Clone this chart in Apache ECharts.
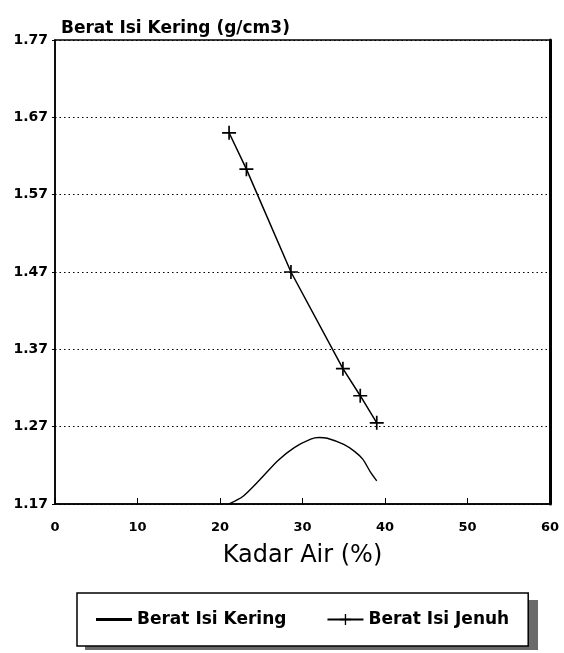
<!DOCTYPE html>
<html><head><meta charset="utf-8">
<script src="https://cdn.jsdelivr.net/npm/echarts@6/dist/echarts.min.js"></script>
<style>html,body{margin:0;padding:0;background:#fff}#c{width:564px;height:653px}</style>
</head><body><div id="c"></div>
<script>
// Data
const keringX = [21.1, 22.8, 24.8, 27.0, 29.0, 31.0, 32.0, 33.0, 35.0, 36.3, 37.3, 38.2, 39.0];
const keringY = [1.170, 1.180, 1.201, 1.226, 1.243, 1.254, 1.256, 1.255, 1.247, 1.238, 1.228, 1.212, 1.200];
const jenuhX = [21.1, 23.2, 28.6, 34.9, 37.0, 39.0];
const jenuhY = [1.650, 1.603, 1.470, 1.345, 1.310, 1.275];
const xTicks = [0, 10, 20, 30, 40, 50, 60];
const yTicks = [1.17, 1.27, 1.37, 1.47, 1.57, 1.67, 1.77];
const seriesNames = ['Berat Isi Kering', 'Berat Isi Jenuh'];
const xTitle = 'Kadar Air (%)';
const yTitle = 'Berat Isi Kering (g/cm3)';

const pair = (xs, ys) => xs.map((x, i) => [x, ys[i]]);
const plus = 'path://M0,4.4H10V5.6H0Z M4.4,0H5.6V10H4.4Z';
const dash = 'path://M0,4.6H10V5.4H0Z';
const boldFont = 'DejaVu Sans';

const chart = echarts.init(document.getElementById('c'), null, {renderer: 'canvas'});
chart.setOption({
  animation: false,
  backgroundColor: '#fff',
  grid: {left: 55, right: 14, top: 40, bottom: 149, show: true, borderColor: '#000', borderWidth: 1.5, backgroundColor: 'transparent'},
  title: {text: yTitle, left: 56, top: 15, textStyle: {fontFamily: boldFont, fontWeight: 'bold', fontSize: 17, color: '#000'}},
  graphic: [{
    type: 'rect', z: 0, silent: true,
    shape: {x: 85, y: 600, width: 453, height: 50},
    style: {fill: '#6a6a6a'}
  }],
  xAxis: {
    type: 'value', min: xTicks[0], max: xTicks[xTicks.length - 1], interval: 10,
    name: xTitle, nameLocation: 'middle', nameGap: 40,
    nameTextStyle: {fontFamily: 'DejaVu Sans', fontSize: 24, color: '#000'},
    axisLine: {lineStyle: {color: '#000', width: 1.5}},
    axisTick: {show: true, inside: true, length: 6, lineStyle: {color: '#000', width: 1}},
    axisLabel: {margin: 17, fontFamily: boldFont, fontWeight: 'bold', fontSize: 13, color: '#000',
      formatter: v => xTicks.includes(v) ? String(v) : ''},
    splitLine: {show: false}
  },
  yAxis: [{
    type: 'value', min: yTicks[0], max: yTicks[yTicks.length - 1], interval: 0.1,
    axisLine: {show: true, lineStyle: {color: '#000', width: 1.5}},
    axisTick: {show: true, inside: false, length: 3, lineStyle: {color: '#000'}},
    axisLabel: {margin: 7, fontFamily: boldFont, fontWeight: 'bold', fontSize: 14, color: '#000',
      formatter: v => {
        const t = yTicks.find(y => Math.abs(y - v) < 1e-6);
        return t === undefined ? '' : t.toFixed(2);
      }},
    splitLine: {show: true, lineStyle: {type: [1.5, 3], color: '#000', width: 1.2}}
  }, {
    type: 'value', position: 'right', min: yTicks[0], max: yTicks[yTicks.length - 1],
    axisLine: {show: true, lineStyle: {color: '#000', width: 3}},
    axisTick: {show: false}, axisLabel: {show: false}, splitLine: {show: false}
  }],
  legend: {
    left: 77, top: 593, z: 5,
    data: [{name: seriesNames[0], icon: dash}, {name: seriesNames[1]}],
    orient: 'horizontal',
    itemWidth: 36, itemHeight: 14, itemGap: 40,
    padding: [18, 19, 18, 19],
    backgroundColor: '#fff',
    borderColor: '#000', borderWidth: 1.5,
    textStyle: {fontFamily: boldFont, fontWeight: 'bold', fontSize: 17, color: '#000'}
  },
  series: [{
    name: seriesNames[0], type: 'line', data: pair(keringX, keringY),
    smooth: 0.25, symbol: 'none', showSymbol: false,
    lineStyle: {color: '#000', width: 1.4}, itemStyle: {color: '#000'}
  }, {
    name: seriesNames[1], type: 'line', data: pair(jenuhX, jenuhY),
    symbol: plus, symbolSize: 14, showSymbol: true,
    lineStyle: {color: '#000', width: 1.5}, itemStyle: {color: '#000'}
  }]
});
</script></body></html>
